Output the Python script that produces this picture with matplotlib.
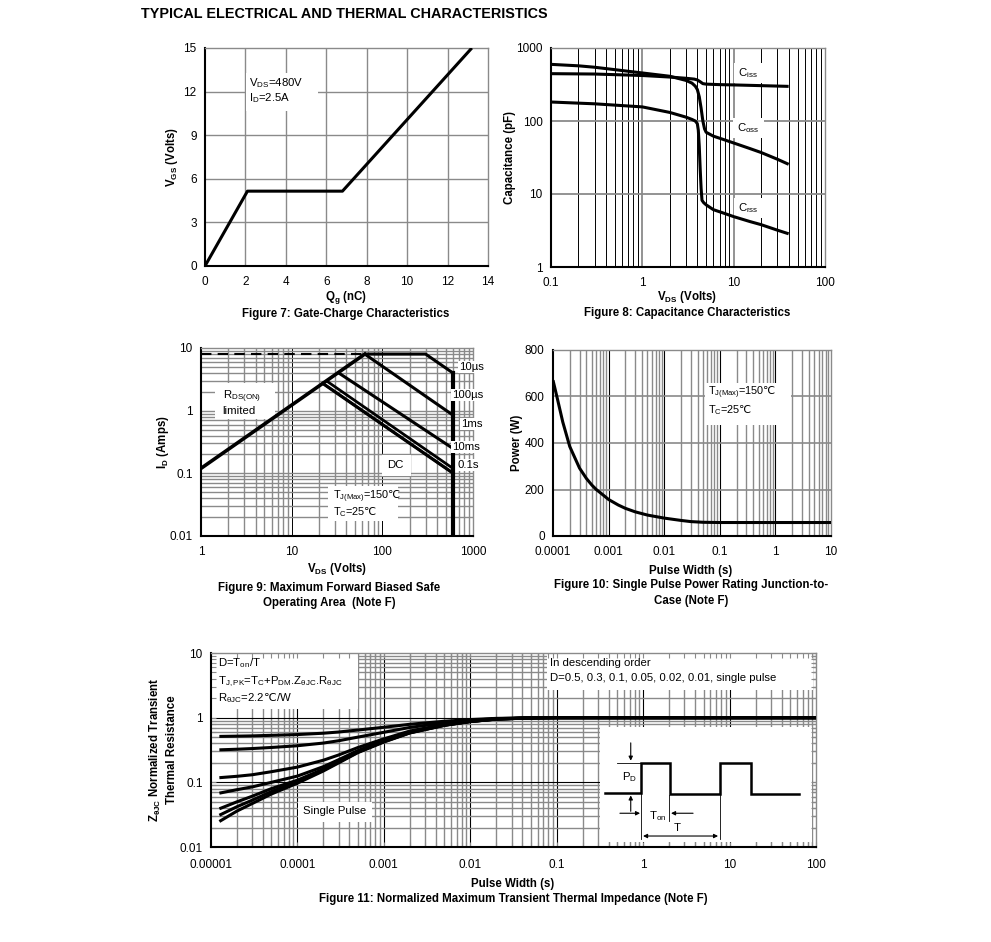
import numpy as np
import matplotlib
matplotlib.use('Agg')
import matplotlib.pyplot as plt
from matplotlib.patches import Rectangle
from matplotlib.transforms import Bbox, BboxTransformTo

plt.rcParams['font.family'] = ['Liberation Sans', 'DejaVu Sans']
plt.rcParams['mathtext.fontset'] = 'custom'
plt.rcParams['mathtext.rm'] = 'DejaVu Sans'
plt.rcParams['mathtext.it'] = 'DejaVu Sans:italic'
plt.rcParams['mathtext.bf'] = 'DejaVu Sans:bold'

# ---------------- data ----------------
# Figure 7: gate charge
qg_nc = [0, 2.1, 6.8, 13.2]
vgs_v = [0, 5.15, 5.15, 15]

# Figure 8: capacitance
ciss_v = [0.1, 0.3, 1, 2, 3, 3.7, 4.0, 4.3, 4.6, 5, 7, 10, 20, 40]
ciss_pf = [445, 440, 420, 400, 385, 375, 365, 345, 325, 320, 315, 312, 305, 298]
coss_v = [0.1, 0.2, 0.3, 0.5, 1, 2, 3, 3.5, 3.8, 4.0, 4.2, 4.4, 4.6, 4.8, 5, 6, 8, 10, 15, 20, 30, 40]
coss_pf = [597, 570, 545, 505, 455, 410, 360, 330, 300, 270, 215, 150, 100, 78, 70, 62, 55, 50, 42, 37, 30, 25.5]
crss_v = [0.1, 0.3, 1, 2, 3, 3.5, 3.8, 4.0, 4.1, 4.2, 4.3, 4.4, 4.5, 4.7, 5, 6, 8, 10, 15, 20, 30, 40]
crss_pf = [182, 172, 156, 131, 113, 105, 100, 92, 75, 45, 22, 12, 8.2, 7.6, 7.1, 6.1, 5.4, 4.9, 4.2, 3.8, 3.2, 2.85]

# Figure 9: safe operating area
rds_v = [1, 64]
rds_a = [0.12, 8]
dash_v = [1, 64]
dash_a = [8, 8]
soa_10us_v = [64, 300, 600]
soa_10us_a = [8, 8, 4]
soa_100us_v = [64, 600]
soa_100us_a = [8, 0.85]
soa_1ms_v = [33, 600]
soa_1ms_a = [4.0, 0.25]
soa_10ms_v = [24.5, 600]
soa_10ms_a = [2.95, 0.12]
soa_01s_v = [22.2, 600]
soa_01s_a = [2.73, 0.102]
soa_dc_v = [22, 600]
soa_dc_a = [2.7, 0.1]
bv_v = [600, 600]
bv_a = [4, 0.01]

# Figure 10: single pulse power
tp_s = [1e-4, 1.2e-4, 1.5e-4, 2e-4, 3e-4, 4e-4, 5e-4, 6e-4, 8e-4, 1e-3, 1.5e-3, 2e-3,
        3e-3, 5e-3, 1e-2, 2e-2, 3e-2, 5e-2, 0.1, 1, 10]
power_w = [670, 590, 490, 385, 292, 247, 219, 200, 176, 157, 133, 119,
           104, 90, 77, 67, 62, 59, 58, 58, 58]

# Figure 11: transient thermal impedance
zt_s = [1.25e-5, 2e-5, 3e-5, 5e-5, 1e-4, 2e-4, 3e-4, 5e-4, 1e-3, 2e-3, 5e-3, 1e-2, 2e-2, 5e-2, 0.1, 1, 100]
z_d05 = [0.513, 0.518, 0.523, 0.533, 0.548, 0.575, 0.6, 0.644, 0.71, 0.79, 0.88, 0.935, 0.975, 0.995, 1, 1, 1]
z_d03 = [0.318, 0.325, 0.333, 0.346, 0.368, 0.405, 0.44, 0.5, 0.594, 0.706, 0.832, 0.909, 0.965, 0.993, 1, 1, 1]
z_d01 = [0.118, 0.124, 0.131, 0.146, 0.172, 0.22, 0.265, 0.345, 0.47, 0.622, 0.784, 0.883, 0.955, 0.991, 1, 1, 1]
z_d005 = [0.068, 0.077, 0.085, 0.1, 0.125, 0.175, 0.224, 0.31, 0.445, 0.6, 0.772, 0.876, 0.952, 0.99, 1, 1, 1]
z_d002 = [0.039, 0.05, 0.061, 0.08, 0.108, 0.16, 0.21, 0.296, 0.43, 0.588, 0.765, 0.873, 0.951, 0.99, 1, 1, 1]
z_d001 = [0.031, 0.042, 0.053, 0.072, 0.102, 0.155, 0.205, 0.292, 0.425, 0.584, 0.762, 0.871, 0.95, 0.99, 1, 1, 1]
z_single = [0.0248, 0.036, 0.047, 0.066, 0.097, 0.15, 0.2, 0.288, 0.42, 0.58, 0.76, 0.87, 0.95, 0.99, 1, 1, 1]
z_series = [z_d05, z_d03, z_d01, z_d005, z_d002, z_d001, z_single]

# ---------------- helpers ----------------
W, H = 991, 942
fig = plt.figure(figsize=(W / 100, H / 100), dpi=100)
fig.patch.set_facecolor('white')
GRAY = '#8a8a8a'
TICK = 8.5
ANN = 8.2
BOLD = 8.3


def add_ax(l, t, r, b):
    ax = fig.add_axes([l / W, 1 - b / H, (r - l) / W, (b - t) / H])
    ax._px = (l, t, r, b)
    for s in ['left', 'bottom']:
        ax.spines[s].set_color('black')
        ax.spines[s].set_linewidth(1.5)
    for s in ['top', 'right']:
        ax.spines[s].set_color(GRAY)
        ax.spines[s].set_linewidth(1.0)
    ax.tick_params(which='both', length=0, labelsize=TICK, pad=6)
    ax.tick_params(axis='x', pad=7)
    return ax


def to_ax(ax, x, y):
    l, t, r, b = ax._px
    return (x - l) / (r - l), (b - y) / (b - t)


def wbox(ax, x0, y0, x1, y1):
    a0, b1 = to_ax(ax, x0, y0)
    a1, b0 = to_ax(ax, x1, y1)
    ax.add_patch(Rectangle((a0, b0), a1 - a0, b1 - b0, transform=ax.transAxes,
                           facecolor='white', edgecolor='none', zorder=1, clip_on=False))


def label(ax, x, y, s, size=ANN, ha='left', **kw):
    a, b = to_ax(ax, x, y)
    ax.text(a, b, s, transform=ax.transAxes, ha=ha, va='center', fontsize=size,
            zorder=4, clip_on=False, **kw)


def ftext(x, y, s, size=BOLD, weight='bold', ha='center', rotation=0, **kw):
    fig.text(x / W, 1 - y / H, s, ha=ha, va='center', fontsize=size, fontweight=weight,
             rotation=rotation, **kw)


def vlines(ax, xs, color, lw):
    for x in xs:
        ax.axvline(x, color=color, lw=lw, zorder=0.5)


def hlines(ax, ys, color, lw):
    for y in ys:
        ax.axhline(y, color=color, lw=lw, zorder=0.5)


def log_major(e0, e1):
    return [10.0 ** e for e in range(e0 + 1, e1)]


def log_minor(e0, e1):
    return [m * 10.0 ** e for e in range(e0, e1) for m in range(2, 10)]


CURVE = dict(color='black', lw=2.2, zorder=3, solid_capstyle='butt')

# ---------------- title ----------------
ftext(141, 14, 'TYPICAL ELECTRICAL AND THERMAL CHARACTERISTICS', size=10.4, ha='left')

# ---------------- Figure 7 ----------------
ax7 = add_ax(205, 48, 488, 266)
ax7.set_xlim(0, 14)
ax7.set_ylim(0, 15)
ax7.set_xticks(range(0, 15, 2))
ax7.set_yticks(range(0, 16, 3))
vlines(ax7, range(2, 14, 2), GRAY, 1.0)
hlines(ax7, range(3, 15, 3), GRAY, 1.0)
ax7.plot(qg_nc, vgs_v, **CURVE)
wbox(ax7, 246, 73, 318, 111)
label(ax7, 249, 83, r'V$_{\mathregular{DS}}$=480V')
label(ax7, 249, 98, r'I$_{\mathregular{D}}$=2.5A')
ftext(346, 298, r'Q$_{\mathregular{g}}$ (nC)')
ftext(346, 314, 'Figure 7: Gate-Charge Characteristics')
ftext(172, 157, r'V$_{\mathregular{GS}}$ (Volts)', rotation=90)

# ---------------- Figure 8 ----------------
ax8 = add_ax(551, 48, 825, 267)
ax8.set_xscale('log')
ax8.set_yscale('log')
ax8.set_xlim(0.1, 100)
ax8.set_ylim(1, 1000)
ax8.set_xticks([0.1, 1, 10, 100], labels=['0.1', '1', '10', '100'])
ax8.set_yticks([1, 10, 100, 1000], labels=['1', '10', '100', '1000'])
ax8.minorticks_off()
vlines(ax8, log_minor(-1, 2), 'black', 0.7)
vlines(ax8, log_major(-1, 2), GRAY, 1.3)
hlines(ax8, log_major(0, 3), GRAY, 1.3)
ax8.plot(ciss_v, ciss_pf, **CURVE)
ax8.plot(coss_v, coss_pf, **CURVE)
ax8.plot(crss_v, crss_pf, **CURVE)
wbox(ax8, 734, 63, 764, 83)
label(ax8, 738, 73, r'C$_{\mathregular{iss}}$')
wbox(ax8, 733, 118, 764, 138)
label(ax8, 737, 128, r'C$_{\mathregular{oss}}$')
wbox(ax8, 734, 198, 764, 218)
label(ax8, 738, 208, r'C$_{\mathregular{rss}}$')
ftext(687, 297, r'V$_{\mathregular{DS}}$ (Volts)')
ftext(687, 313, 'Figure 8: Capacitance Characteristics')
ftext(510, 157, 'Capacitance (pF)', rotation=90)

# ---------------- Figure 9 ----------------
ax9 = add_ax(201, 348, 473, 536)
ax9.set_xscale('log')
ax9.set_yscale('log')
ax9.set_xlim(1, 1000)
ax9.set_ylim(0.01, 10)
ax9.set_xticks([1, 10, 100, 1000], labels=['1', '10', '100', '1000'])
ax9.set_yticks([0.01, 0.1, 1, 10], labels=['0.01', '0.1', '1', '10'])
ax9.minorticks_off()
vlines(ax9, log_minor(0, 3), GRAY, 1.0)
vlines(ax9, log_major(0, 3), 'black', 0.7)
hlines(ax9, log_minor(-2, 1), GRAY, 1.0)
hlines(ax9, log_major(-2, 1), GRAY, 1.0)
ax9.plot(dash_v, dash_a, color='black', lw=1.5, dashes=(5, 3), zorder=3)
ax9.plot(rds_v, rds_a, color='black', lw=2.6, zorder=3)
ax9.plot(soa_10us_v, soa_10us_a, **CURVE)
ax9.plot(soa_100us_v, soa_100us_a, **CURVE)
ax9.plot(soa_1ms_v, soa_1ms_a, **CURVE)
ax9.plot(soa_10ms_v, soa_10ms_a, color='black', lw=2.0, zorder=3)
ax9.plot(soa_01s_v, soa_01s_a, color='black', lw=2.0, zorder=3)
ax9.plot(soa_dc_v, soa_dc_a, color='black', lw=2.0, zorder=3)
ax9.plot(bv_v, bv_a, color='black', lw=3.0, zorder=3)
wbox(ax9, 215, 383, 275, 419)
label(ax9, 223, 397, r'R$_{\mathregular{DS(ON)}}$')
label(ax9, 222, 411, 'limited')
wbox(ax9, 382, 455, 411, 476)
label(ax9, 387, 465, 'DC')
wbox(ax9, 328, 486, 398, 521)
label(ax9, 333, 497, r'T$_{\mathregular{J(Max)}}$=150$\mathrm{℃}$', size=7.8)
label(ax9, 333, 512, r'T$_{\mathregular{C}}$=25$\mathrm{℃}$', size=7.8)
for (xx, yy, ss) in [(459, 367, '10\u00b5s'), (452, 395, '100\u00b5s'), (461, 424, '1ms'),
                     (452, 447, '10ms'), (458, 465, '0.1s')]:
    label(ax9, xx, yy, ss, bbox=dict(facecolor='white', edgecolor='none', pad=1.0))
ftext(337, 569, r'V$_{\mathregular{DS}}$ (Volts)')
ftext(329, 588, 'Figure 9: Maximum Forward Biased Safe')
ftext(329, 603, 'Operating Area  (Note F)')
ftext(163, 442, r'I$_{\mathregular{D}}$ (Amps)', rotation=90)

# ---------------- Figure 10 ----------------
ax10 = add_ax(553, 350, 831, 536)
ax10.set_xscale('log')
ax10.set_xlim(1e-4, 10)
ax10.set_ylim(0, 800)
ax10.set_xticks([1e-4, 1e-3, 1e-2, 0.1, 1, 10],
                labels=['0.0001', '0.001', '0.01', '0.1', '1', '10'])
ax10.set_yticks(range(0, 801, 200))
ax10.minorticks_off()
vlines(ax10, log_minor(-4, 1), GRAY, 1.0)
vlines(ax10, log_major(-4, 1), 'black', 0.8)
hlines(ax10, [200, 400, 600], GRAY, 1.2)
ax10.plot(tp_s, power_w, **CURVE)
wbox(ax10, 705, 383, 791, 425)
label(ax10, 708, 393, r'T$_{\mathregular{J(Max)}}$=150$\mathrm{℃}$', size=7.8)
label(ax10, 708, 410, r'T$_{\mathregular{C}}$=25$\mathrm{℃}$', size=7.8)
ftext(691, 571, 'Pulse Width (s)')
ftext(691, 585, 'Figure 10: Single Pulse Power Rating Junction-to-')
ftext(691, 601, 'Case (Note F)')
ftext(517, 443, 'Power (W)', rotation=90)

# ---------------- Figure 11 ----------------
ax11 = add_ax(211, 653, 816, 847)
ax11.set_xscale('log')
ax11.set_yscale('log')
ax11.set_xlim(1e-5, 100)
ax11.set_ylim(0.01, 10)
ax11.set_xticks([1e-5, 1e-4, 1e-3, 1e-2, 0.1, 1, 10, 100],
                labels=['0.00001', '0.0001', '0.001', '0.01', '0.1', '1', '10', '100'])
ax11.set_yticks([0.01, 0.1, 1, 10], labels=['0.01', '0.1', '1', '10'])
ax11.set_xticks(log_minor(-5, 2), minor=True)
ax11.set_yticks(log_minor(-2, 1), minor=True)
ax11.tick_params(which='both', direction='in', length=3.5, top=True, right=True,
                 color=GRAY, width=0.8)
ax11.tick_params(axis='x', which='major', pad=9)
ax11.tick_params(axis='y', which='major', pad=6)
vlines(ax11, log_minor(-5, 2), GRAY, 1.0)
vlines(ax11, log_major(-5, 2), 'black', 0.8)
hlines(ax11, log_minor(-2, 1), GRAY, 1.0)
hlines(ax11, log_major(-2, 1), 'black', 0.8)
for zs in z_series:
    ax11.plot(zt_s, zs, **CURVE)
wbox(ax11, 212, 654, 358, 709)
label(ax11, 218, 663, r'D=T$_{\mathregular{on}}$/T')
label(ax11, 218, 682, r'T$_{\mathregular{J,PK}}$=T$_{\mathregular{C}}$+P$_{\mathregular{DM}}$.Z$_{\mathregular{θJC}}$.R$_{\mathregular{θJC}}$')
label(ax11, 218, 698, r'R$_{\mathregular{θJC}}$=2.2$\mathrm{℃}$/W')
wbox(ax11, 547, 654, 813, 690)
label(ax11, 550, 663, 'In descending order')
label(ax11, 550, 678, 'D=0.5, 0.3, 0.1, 0.05, 0.02, 0.01, single pulse')
wbox(ax11, 298, 802, 372, 822)
label(ax11, 303, 811, 'Single Pulse')

# inset waveform diagram
ix0, iy1 = to_ax(ax11, 600, 727)
ix1, iy0 = to_ax(ax11, 812, 842)
itr = BboxTransformTo(Bbox.from_extents(ix0, iy0, ix1, iy1)) + ax11.transAxes
ax11.add_patch(Rectangle((0, 0), 1, 1, transform=itr, facecolor='white',
                         edgecolor='none', zorder=1))
wave_x = [0.024, 0.193, 0.193, 0.33, 0.33, 0.566, 0.566, 0.712, 0.712, 0.939]
wave_y = [0.422, 0.422, 0.69, 0.69, 0.414, 0.414, 0.69, 0.69, 0.414, 0.414]
ax11.plot(wave_x, wave_y, transform=itr, color='black', lw=1.8, zorder=3,
          solid_joinstyle='miter')
thin = dict(color='black', lw=0.6, zorder=3, transform=itr)
ax11.plot([0.079, 0.193], [0.69, 0.69], **thin)
ax11.plot([0.193, 0.193], [0.422, 0.03], **thin)
ax11.plot([0.566, 0.566], [0.414, 0.03], **thin)
ax11.plot([0.327, 0.327], [0.405, 0.18], **thin)
arrow = dict(arrowstyle='-|>', color='black', lw=0.8, mutation_scale=6,
             shrinkA=0, shrinkB=0)
for (xy, xyt) in [((0.145, 0.707), (0.145, 0.862)), ((0.145, 0.405), (0.145, 0.267)),
                  ((0.189, 0.25), (0.094, 0.25)), ((0.335, 0.25), (0.439, 0.25))]:
    ax11.annotate('', xy=xy, xytext=xyt, xycoords=itr, textcoords=itr,
                  arrowprops=arrow, zorder=4)
ax11.annotate('', xy=(0.557, 0.052), xytext=(0.203, 0.052), xycoords=itr, textcoords=itr,
              arrowprops=dict(arrowstyle='<|-|>', color='black', lw=0.8, mutation_scale=6,
                              shrinkA=0, shrinkB=0), zorder=4)
ax11.text(0.137, 0.56, r'P$_{\mathregular{D}}$', transform=itr, ha='center', va='center',
          fontsize=ANN, zorder=4)
ax11.text(0.274, 0.224, r'T$_{\mathregular{on}}$', transform=itr, ha='center', va='center',
          fontsize=ANN, zorder=4)
ax11.text(0.363, 0.12, 'T', transform=itr, ha='center', va='center', fontsize=ANN, zorder=4)

ftext(513, 884, 'Pulse Width (s)')
ftext(513, 899, 'Figure 11: Normalized Maximum Transient Thermal Impedance (Note F)')
ftext(163, 750, r'Z$_{\mathregular{θJC}}$ Normalized Transient' + '\n' + 'Thermal Resistance',
      rotation=90, multialignment='center', linespacing=1.3)

fig.savefig('out.png', dpi=100, facecolor='white')
